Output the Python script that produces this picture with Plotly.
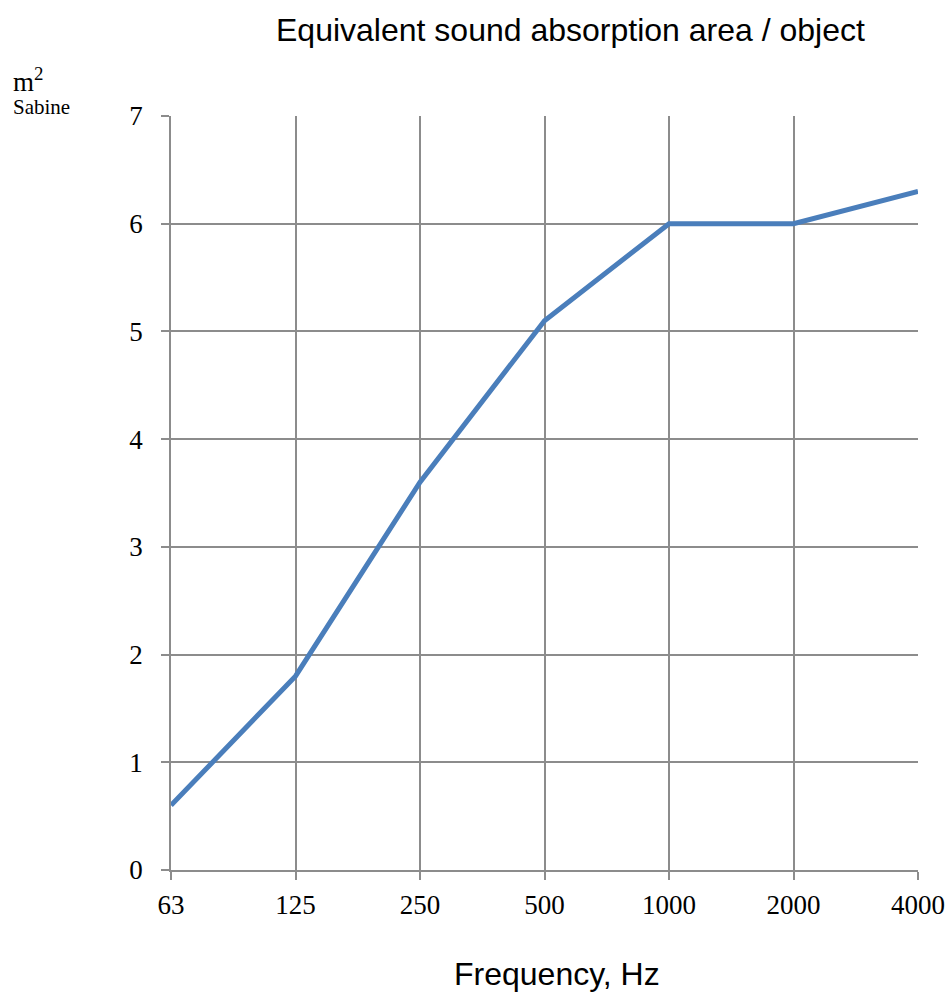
import plotly.graph_objects as go

frequencies = ["63", "125", "250", "500", "1000", "2000", "4000"]
absorption = [0.6, 1.8, 3.6, 5.1, 6.0, 6.0, 6.3]
y_ticks = [0, 1, 2, 3, 4, 5, 6, 7]

x_pos = list(range(len(frequencies)))

W, H = 950, 994
L, T = 171, 116
PW, PH = 918 - 171, 870 - 116
R, B = W - L - PW, H - T - PH

fig = go.Figure()
fig.add_trace(go.Scatter(
    x=x_pos, y=absorption, mode="lines",
    line=dict(color="#4a7ebb", width=5),
    showlegend=False, hoverinfo="skip",
))

grid = "#8c8c8c"
tickfont = dict(family="Liberation Serif", size=27, color="#000000")

fig.update_layout(
    width=W, height=H,
    margin=dict(l=L, r=R, t=T, b=B, pad=0, autoexpand=False),
    paper_bgcolor="white", plot_bgcolor="white",
    xaxis=dict(
        range=[0, 6], tickvals=x_pos, ticktext=frequencies,
        showgrid=True, gridcolor=grid, gridwidth=1.5,
        showline=True, linecolor=grid, linewidth=1.5,
        ticks="outside", ticklen=8, tickcolor=grid, tickwidth=1.5,
        tickfont=tickfont, zeroline=False, ticklabelstandoff=2,
        automargin=False, fixedrange=True,
    ),
    yaxis=dict(
        range=[0, 7], tickvals=y_ticks,
        showgrid=True, gridcolor=grid, gridwidth=1.5,
        showline=True, linecolor=grid, linewidth=1.5,
        ticks="outside", ticklen=8, tickcolor=grid, tickwidth=1.5,
        tickfont=tickfont, zeroline=False, ticklabelstandoff=13,
        automargin=False, fixedrange=True,
    ),
)

def px_to_paper(xp, yp):
    return (xp - L) / PW, (H - B - yp) / PH

anns = []
for text, xp, yp, fam, size, xanchor in [
    ("Equivalent sound absorption area / object", 570, 30, "Liberation Sans", 32, "center"),
    ("Frequency, Hz", 557, 974, "Liberation Sans", 32, "center"),
    ("m<sup>2</sup>", 11, 80, "Liberation Serif", 27, "left"),
    ("Sabine", 11, 107, "Liberation Serif", 21, "left"),
]:
    xpap, ypap = px_to_paper(xp, yp)
    anns.append(dict(text=text, x=xpap, y=ypap, xref="paper", yref="paper",
                     showarrow=False, xanchor=xanchor, yanchor="middle",
                     font=dict(family=fam, size=size, color="#000000")))
fig.update_layout(annotations=anns)

fig.write_html(
    "out.html",
    config={"displayModeBar": False},
    post_script="document.body.style.margin='0';document.body.style.overflow='hidden';",
)
